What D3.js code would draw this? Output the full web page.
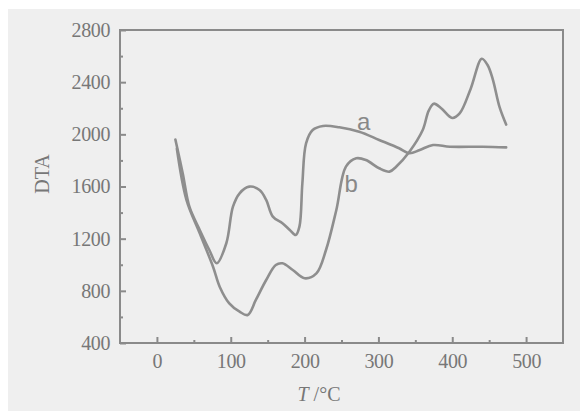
<!DOCTYPE html>
<html><head><meta charset="utf-8">
<script src="https://cdn.jsdelivr.net/npm/d3@7"></script>
<style>html,body{margin:0;padding:0;background:#fff;}svg{display:block;}</style>
</head><body>
<svg id="chart" width="580" height="411"></svg>
<script>
// Curve a
const tempA = [25, 35, 44, 58, 71, 81, 94, 103, 112, 125, 139, 148, 157, 170, 180, 188, 193, 197, 202, 211, 225, 247, 274, 301, 328, 342, 356, 374, 397, 441, 473];
const dtaA  = [1960, 1700, 1445, 1267, 1113, 1011, 1165, 1445, 1548, 1599, 1573, 1497, 1369, 1318, 1267, 1228, 1292, 1625, 1931, 2033, 2064, 2054, 2020, 1957, 1893, 1855, 1880, 1918, 1905, 1905, 1900];
// Curve b
const tempB = [27, 40, 58, 76, 85, 98, 112, 123, 134, 148, 161, 170, 184, 200, 216, 229, 243, 256, 270, 283, 301, 315, 324, 342, 360, 368, 375, 385, 400, 410, 425, 440, 448, 455, 464, 473];
const dtaB  = [1890, 1497, 1241, 985, 832, 704, 640, 615, 730, 883, 998, 1011, 960, 896, 934, 1113, 1420, 1752, 1816, 1803, 1740, 1714, 1752, 1867, 2033, 2180, 2235, 2200, 2125, 2160, 2350, 2580, 2530, 2420, 2210, 2075];
// Ticks
const xTicks = [0, 100, 200, 300, 400, 500];
const xMinor = [50, 150, 250, 350, 450];
const yTicks = [400, 800, 1200, 1600, 2000, 2400, 2800];
const yMinor = [600, 1000, 1400, 1800, 2200, 2600];
const curveLabels = ["a", "b"];
const labelPos = [[271, 2033], [254, 1558]];

const svg = d3.select("#chart");
const ink = "#8a8a8a", textInk = "#777";
svg.append("rect").attr("x", 8).attr("y", 9).attr("width", 572).attr("height", 402).attr("fill", "#efefef");

const x = d3.scaleLinear().domain([-50, 550]).range([120, 563]);
const y = d3.scaleLinear().domain([400, 2800]).range([343, 30]);

const serif = "'Liberation Serif', serif";
const fmt = d3.format("d");

// bottom axis
const gx = svg.append("g").attr("transform", "translate(0,343)")
  .call(d3.axisBottom(x).tickValues(xTicks).tickFormat(fmt).tickSizeInner(-6).tickSizeOuter(0).tickPadding(11));
const gxm = svg.append("g").attr("transform", "translate(0,343)")
  .call(d3.axisBottom(x).tickValues(xMinor).tickSizeInner(-3).tickSizeOuter(0).tickFormat(""));
const gy = svg.append("g").attr("transform", "translate(120,0)")
  .call(d3.axisLeft(y).tickValues(yTicks).tickFormat(fmt).tickSizeInner(-6).tickSizeOuter(0).tickPadding(10));
const gym = svg.append("g").attr("transform", "translate(120,0)")
  .call(d3.axisLeft(y).tickValues(yMinor).tickSizeInner(-3).tickSizeOuter(0).tickFormat(""));
[gx, gxm, gy, gym].forEach(g => {
  g.select(".domain").remove();
  g.selectAll(".tick line").attr("stroke", ink).attr("stroke-width", 2);
  g.selectAll(".tick text").attr("fill", textInk).style("font-family", serif).style("font-size", "20px").style("letter-spacing", "-0.4px");
});

// frame
svg.append("rect").attr("x", 120).attr("y", 30).attr("width", 443).attr("height", 313)
  .attr("fill", "none").attr("stroke", ink).attr("stroke-width", 2);

// curves
const line = d3.line().x(d => x(d[0])).y(d => y(d[1])).curve(d3.curveCatmullRom.alpha(0.5));
const dataA = tempA.map((t, i) => [t, dtaA[i]]);
const dataB = tempB.map((t, i) => [t, dtaB[i]]);
svg.selectAll("path.curve").data([dataA, dataB]).enter().append("path")
  .attr("class", "curve").attr("d", line).attr("fill", "none")
  .attr("stroke", "#8e8e8e").attr("stroke-width", 2.6).attr("stroke-linejoin", "round").attr("stroke-linecap", "round");

svg.selectAll("text.clabel").data(curveLabels).enter().append("text")
  .attr("class", "clabel")
  .attr("x", (d, i) => x(labelPos[i][0]))
  .attr("y", (d, i) => y(labelPos[i][1]))
  .attr("fill", "#888").style("font-family", "'Liberation Sans', Arial, sans-serif").style("font-size", "24px")
  .text(d => d);

// axis titles
const xt = svg.append("text").attr("x", 319).attr("y", 401).attr("text-anchor", "middle")
  .attr("fill", textInk).style("font-family", serif).style("font-size", "20px");
xt.append("tspan").style("font-style", "italic").text("T");
xt.append("tspan").text(" /\u00B0C");

svg.append("text").attr("transform", "translate(49,174) rotate(-90)").attr("text-anchor", "middle")
  .attr("fill", textInk).style("font-family", serif).style("font-size", "20px").text("DTA");
</script>
</body></html>
